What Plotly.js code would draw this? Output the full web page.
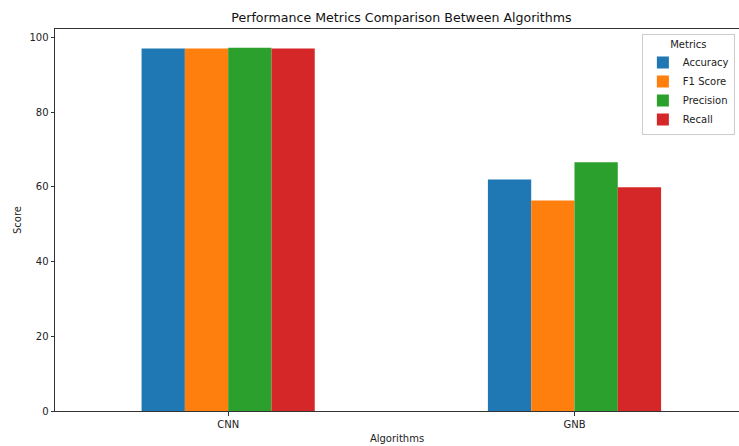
<!DOCTYPE html>
<html>
<head>
<meta charset="utf-8">
<script src="https://cdn.plot.ly/plotly-3.0.1.min.js"></script>
<style>body{margin:0;padding:0;background:#fff}#chart{width:739px;height:446px}</style>
</head>
<body>
<div id="chart"></div>
<script>
const algorithms = ["CNN", "GNB"];
const metricNames = ["Accuracy", "F1 Score", "Precision", "Recall"];
const accuracy = [97.1, 62.0];
const f1Score = [97.1, 56.4];
const precision = [97.3, 66.6];
const recall = [97.1, 59.9];
const seriesValues = [accuracy, f1Score, precision, recall];
const colors = ["#1f77b4", "#ff7f0e", "#2ca02c", "#d62728"];
const yTicks = [0, 20, 40, 60, 80, 100];

const font = "DejaVu Sans, sans-serif";
const traces = metricNames.map((name, i) => ({
  type: "bar",
  name: name,
  x: algorithms,
  y: seriesValues[i],
  marker: {color: colors[i], line: {width: 0}},
  hoverinfo: "x+y+name"
}));

const layout = {
  width: 739, height: 446,
  margin: {l: 55, r: 0, t: 29, b: 35, pad: 0, autoexpand: false},
  paper_bgcolor: "#fff", plot_bgcolor: "#fff",
  font: {family: font, size: 10, color: "#222"},
  barmode: "group", bargap: 0.5, bargroupgap: 0,
  title: {text: "Performance Metrics Comparison Between Algorithms",
          font: {family: font, size: 12.6, color: "#111"},
          xref: "container", x: 0.5433, xanchor: "center",
          yref: "container", y: 1 - 18/446, yanchor: "middle"},
  xaxis: {
    type: "category", range: [-0.5, 1.475],
    showline: true, linecolor: "#333", linewidth: 1, mirror: true,
    showgrid: false, zeroline: false,
    ticks: "outside", ticklen: 3.5, tickcolor: "#333", tickwidth: 1,
    tickfont: {family: font, size: 10, color: "#222"},
    title: {text: "Algorithms", font: {family: font, size: 10, color: "#222"}, standoff: 6}
  },
  yaxis: {
    range: [0, 102.3],
    tickvals: yTicks, ticktext: yTicks.map(String),
    showline: true, linecolor: "#333", linewidth: 1, mirror: false,
    showgrid: false, zeroline: false,
    ticks: "outside", ticklen: 3.5, tickcolor: "#333", tickwidth: 1,
    tickfont: {family: font, size: 10, color: "#222"},
    title: {text: "Score", font: {family: font, size: 10, color: "#222"}, standoff: 5}
  },
  legend: {
    title: {text: "Metrics", side: "top center", font: {family: font, size: 10, color: "#222"}},
    x: 0.858, xanchor: "left", y: 0.987, yanchor: "top",
    bgcolor: "rgba(255,255,255,0.8)", bordercolor: "#ccc", borderwidth: 1,
    font: {family: font, size: 10, color: "#222"},
    itemwidth: 30, tracegroupgap: 0
  },
  showlegend: true
};

Plotly.newPlot("chart", traces, layout, {displayModeBar: false, staticPlot: true});
</script>
</body>
</html>
